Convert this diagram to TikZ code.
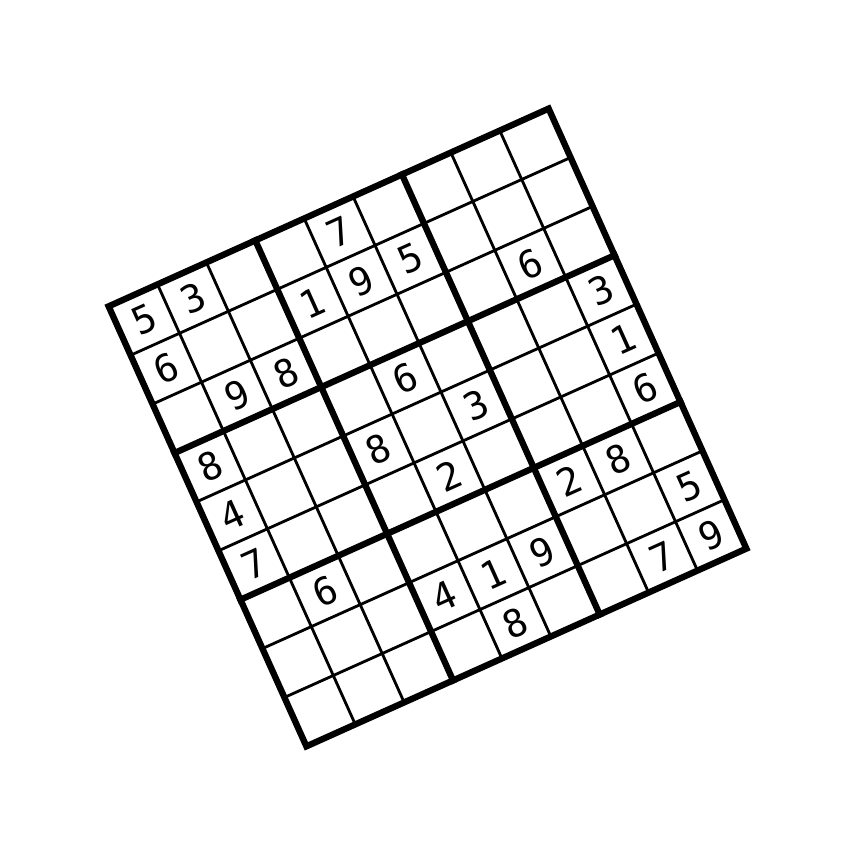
\documentclass[tikz,border=0pt]{standalone}
\usepackage{fontspec}
\newfontfamily\digitfont{DejaVu Sans Mono}
\begin{document}
\begin{tikzpicture}[x=0.1mm,y=0.1mm,
  thinline/.style={line width=0.8pt},
  thickline/.style={line width=1.8pt, line cap=rect},
  digit/.style={font=\digitfont\fontsize{10.8pt}{12pt}\selectfont, inner sep=0pt, anchor=center, transform shape}]
\useasboundingbox[fill=white] (0,0) rectangle (855,855);
\begin{scope}[shift={(427.5,427.5)}, rotate=24.2, x=0.1mm, y=0.1mm]
  \def\c{53.6}
  \foreach \i in {1,2,4,5,7,8} {
    \draw[thinline] (-241.2+\i*\c,-241.2) -- (-241.2+\i*\c,241.2);
    \draw[thinline] (-241.2,-241.2+\i*\c) -- (241.2,-241.2+\i*\c);
  }
  \foreach \i in {3,6} {
    \draw[thickline] (-241.2+\i*\c,-241.2) -- (-241.2+\i*\c,241.2);
    \draw[thickline] (-241.2,-241.2+\i*\c) -- (241.2,-241.2+\i*\c);
  }
  \draw[thickline, line join=miter] (-241.2,-241.2) rectangle (241.2,241.2);
  \foreach \r/\cc/\d in {1/1/5,1/2/3,1/5/7,
    2/1/6,2/4/1,2/5/9,2/6/5,
    3/2/9,3/3/8,3/8/6,
    4/1/8,4/5/6,4/9/3,
    5/1/4,5/4/8,5/6/3,5/9/1,
    6/1/7,6/5/2,6/9/6,
    7/2/6,7/7/2,7/8/8,
    8/4/4,8/5/1,8/6/9,8/9/5,
    9/5/8,9/8/7,9/9/9} {
    \node[digit] (n\r\cc) at (-241.2+\cc*\c-0.5*\c, 241.2-\r*\c+0.5*\c) {\d};
  }
\end{scope}
\end{tikzpicture}
\end{document}
